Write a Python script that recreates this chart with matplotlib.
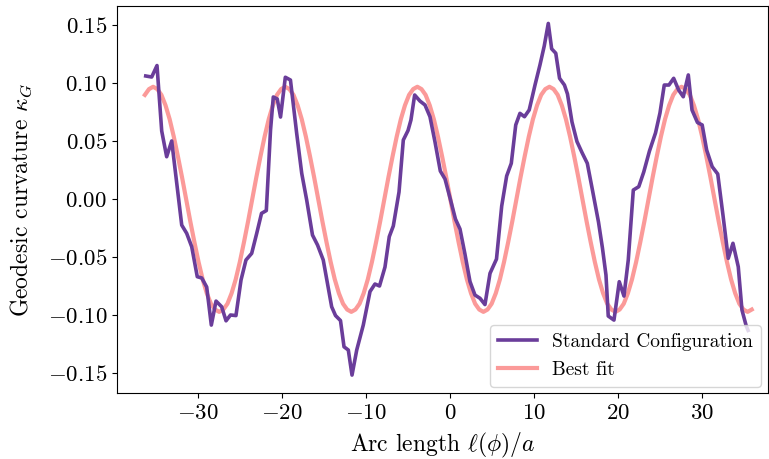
import numpy as np
import matplotlib
matplotlib.use("Agg")
import matplotlib.pyplot as plt

plt.rcParams['font.family'] = ['cmr10', 'DejaVu Serif']
plt.rcParams['mathtext.fontset'] = 'cm'
plt.rcParams['axes.formatter.use_mathtext'] = True
plt.rcParams['axes.unicode_minus'] = True

# Standard configuration (measured)
arc_x = [-36.18, -35.47, -34.84, -34.28, -33.69, -33.09, -31.90, -31.31, -30.71, -30.05,
         -29.52, -28.93, -28.38, -27.82, -27.15, -26.63, -26.10, -25.45, -24.85, -24.26,
         -23.58, -22.98, -22.41, -21.84, -21.34, -21.01, -20.54, -20.15, -19.58, -18.97,
         -18.23, -17.63, -17.04, -16.35, -15.75, -15.07, -14.07, -13.61, -13.02, -12.60,
         -12.09, -11.65, -11.09, -10.31, -9.51, -8.92, -8.38, -7.73, -7.22, -6.74,
         -6.06, -5.55, -4.99, -4.64, -4.20, -3.57, -2.97, -2.38, -1.78, -1.15,
         -0.59, 0.10, 0.65, 1.19, 1.78, 2.38, 2.97, 3.57, 4.16, 4.76,
         5.53, 6.15, 6.74, 7.29, 7.82, 8.32, 8.86, 9.42, 10.11, 10.70,
         11.21, 11.69, 12.09, 12.58, 13.03, 13.61, 13.97, 14.51, 15.10, 15.70,
         16.33, 16.94, 17.66, 18.13, 18.55, 18.82, 19.50, 20.13, 20.69, 21.20,
         21.80, 22.45, 23.04, 23.72, 24.44, 24.97, 25.48, 26.04, 26.60, 27.19,
         27.74, 28.34, 28.78, 29.43, 29.99, 30.52, 31.18, 31.84, 32.46, 33.09,
         33.65, 34.28, 34.72, 35.23, 35.45]
curvature = [0.1063, 0.1054, 0.1153, 0.0589, 0.0367, 0.0503, -0.0222, -0.0293, -0.0409, -0.0667,
             -0.0678, -0.0756, -0.1084, -0.0877, -0.0926, -0.1047, -0.0997, -0.1002, -0.0696, -0.0523,
             -0.0466, -0.0293, -0.0121, -0.0097, 0.0597, 0.0882, 0.0865, 0.0709, 0.1052, 0.1028,
             0.0569, 0.0224, -0.0006, -0.0308, -0.0394, -0.0523, -0.0926, -0.1002, -0.1045, -0.1271,
             -0.1299, -0.1515, -0.1299, -0.1084, -0.0795, -0.0730, -0.0747, -0.0584, -0.0322, -0.0230,
             0.0063, 0.0511, 0.0593, 0.0684, 0.0899, 0.0847, 0.0813, 0.0712, 0.0494, 0.0244,
             0.0175, -0.0015, -0.0170, -0.0256, -0.0472, -0.0709, -0.0825, -0.0853, -0.0907, -0.0638,
             -0.0515, -0.0058, 0.0201, 0.0310, 0.0641, 0.0741, 0.0712, 0.0770, 0.0985, 0.1158,
             0.1322, 0.1516, 0.1297, 0.1259, 0.1043, 0.0985, 0.0908, 0.0666, 0.0498, 0.0403,
             0.0310, 0.0080, -0.0196, -0.0420, -0.0653, -0.1006, -0.1041, -0.0710, -0.0834, -0.0523,
             0.0080, 0.0109, 0.0235, 0.0416, 0.0572, 0.0744, 0.0985, 0.0985, 0.1043, 0.0942,
             0.0884, 0.1072, 0.0770, 0.0662, 0.0641, 0.0425, 0.0281, 0.0218, -0.0135, -0.0509,
             -0.0379, -0.0581, -0.0954, -0.1092, -0.1130]

# Best fit curve
fit_x = np.linspace(-36.28, 35.88, 148)
fit_values = [
    0.090, 0.095,
    0.097, 0.095, 0.090, 0.081, 0.069, 0.054, 0.037, 0.019, 0.000, -0.019, -0.037, -0.054, -0.069, -0.081, -0.090, -0.095,
    -0.097, -0.095, -0.090, -0.081, -0.069, -0.054, -0.037, -0.019, 0.000, 0.019, 0.037, 0.054, 0.069, 0.081, 0.090, 0.095,
    0.097, 0.095, 0.090, 0.081, 0.069, 0.054, 0.037, 0.019, 0.000, -0.019, -0.037, -0.054, -0.069, -0.081, -0.090, -0.095,
    -0.097, -0.095, -0.090, -0.081, -0.069, -0.054, -0.037, -0.019, 0.000, 0.019, 0.037, 0.054, 0.069, 0.081, 0.090, 0.095,
    0.097, 0.095, 0.090, 0.081, 0.069, 0.054, 0.037, 0.019, 0.000, -0.019, -0.037, -0.054, -0.069, -0.081, -0.090, -0.095,
    -0.097, -0.095, -0.090, -0.081, -0.069, -0.054, -0.037, -0.019, 0.000, 0.019, 0.037, 0.054, 0.069, 0.081, 0.090, 0.095,
    0.097, 0.095, 0.090, 0.081, 0.069, 0.054, 0.037, 0.019, 0.000, -0.019, -0.037, -0.054, -0.069, -0.081, -0.090, -0.095,
    -0.097, -0.095, -0.090, -0.081, -0.069, -0.054, -0.037, -0.019, 0.000, 0.019, 0.037, 0.054, 0.069, 0.081, 0.090, 0.095,
    0.097, 0.095, 0.090, 0.081, 0.069, 0.054, 0.037, 0.019, 0.000, -0.019, -0.037, -0.054, -0.069, -0.081, -0.090, -0.095,
    -0.097, -0.095,
]

x_ticks = [-30, -20, -10, 0, 10, 20, 30]
y_ticks = [-0.15, -0.10, -0.05, 0.00, 0.05, 0.10, 0.15]

fig = plt.figure(figsize=(7.69, 4.59), dpi=100)
ax = fig.add_axes([0.1521, 0.1431, 0.8462, 0.8438])

ax.plot(arc_x, curvature, color='#6a3d9a', lw=2.6, label='Standard Configuration', zorder=3)
ax.plot(fit_x, fit_values, color='#fb9a99', lw=3.0, label='Best fit', zorder=2)

ax.set_xlim(-39.6, 37.78)
ax.set_ylim(-0.1672, 0.1666)
ax.set_xticks(x_ticks)
ax.set_yticks(y_ticks)
ax.tick_params(labelsize=16.5)
ax.set_xlabel(r'Arc length $\ell(\phi)/a$', fontsize=17, labelpad=6)
ax.set_ylabel(r'Geodesic curvature $\kappa_G$', fontsize=17, labelpad=10)
ax.legend(loc='lower right', fontsize=14, borderaxespad=0.35)

fig.savefig('out.png', dpi=100)
